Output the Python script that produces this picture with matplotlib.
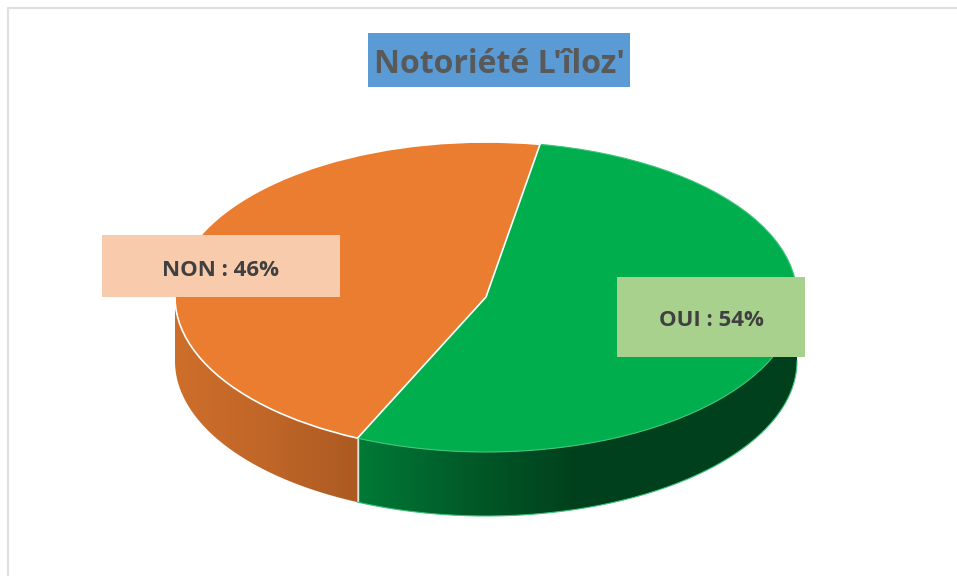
import numpy as np
import matplotlib
matplotlib.use("Agg")
import matplotlib.pyplot as plt
from matplotlib.colors import LinearSegmentedColormap
from matplotlib.patches import Rectangle, Polygon

categories = ["NON", "OUI"]
values = [46, 54]
colors = ["#EB7D30", "#00AE4E"]
title = "Notoriété L'îloz'"

W, H = 957, 576
CX, CY, RX, RY, DEPTH = 486, 297, 311, 155, 64
START = 80

plt.rcParams["font.family"] = ["Open Sans", "DejaVu Sans"]
fig = plt.figure(figsize=(W / 100, H / 100), dpi=100, facecolor="white")
ax = fig.add_axes([0, 0, 1, 1])

wall_cmaps = [
    LinearSegmentedColormap.from_list("o", ["#CE6E2B", "#C06628", "#AC5A22"]),
    LinearSegmentedColormap.from_list("g", ["#007A36", "#005A28", "#00401C", "#00401C", "#00401C"]),
]
d = DEPTH / RY
angles = START + np.cumsum([0] + values) * 3.6
for i, val in enumerate(values):
    a0, a1 = angles[i], angles[i + 1]
    lo, hi = max(a0, 180), min(a1, 360)
    th = np.radians(np.linspace(lo, hi, 300))
    xs, ys = np.cos(th), np.sin(th)
    poly = Polygon(np.r_[np.c_[xs, ys], np.c_[xs, ys - d][::-1]], closed=True, fc="none", ec="none",
                   transform=ax.transData)
    ax.add_patch(poly)
    grad = wall_cmaps[i](np.linspace(0, 1, 256))[None, :, :]
    im = ax.imshow(grad, extent=(xs.min(), xs.max(), (ys - d).min(), ys.max()),
                   aspect="auto", zorder=2, interpolation="bilinear")
    im.set_clip_path(poly)
# seam between slices
sx = np.cos(np.radians(angles[1]))
sy = np.sin(np.radians(angles[1]))
ax.plot([sx, sx], [sy - d, sy], color="#DDE8DD", lw=1, zorder=3)
th = np.radians(np.linspace(angles[1], 360, 200))
ax.plot(np.cos(th), np.sin(th) - d, color="#3CC47A", lw=0.8, zorder=3)

wedges, _ = ax.pie(values, colors=colors, startangle=START, radius=1, center=(0, 0),
                   wedgeprops=dict(edgecolor="white", linewidth=1.2, zorder=4))
wedges[1].set_edgecolor("#3FC47C")
wedges[1].set_linewidth(0.8)
wedges[0].set_zorder(5)

ax.set_aspect("auto")
ax.set_xlim(-CX / RX, (W - CX) / RX)
ax.set_ylim((CY - H) / RY, CY / RY)
ax.axis("off")


def px(x, y):
    return (x - CX) / RX, (CY - y) / RY


def box(x0, y0, x1, y1, color, label, fc, size, dy):
    xa, ya = px(x0, y1)
    xb, yb = px(x1, y0)
    ax.add_patch(Rectangle((xa, ya), xb - xa, yb - ya, fc=color, ec="none", zorder=8))
    ax.text((xa + xb) / 2, (ya + yb) / 2 - dy / RY, label, color=fc, fontsize=size, fontweight="bold",
            ha="center", va="center", zorder=9)


box(102, 235, 340, 297, "#F8CBAD", f"{categories[0]} : {values[0]}%", "#404040", 16, 5)
box(617, 277, 805, 357, "#A9D18E", f"{categories[1]} : {values[1]}%", "#404040", 16, 4)
box(368, 33, 630, 87, "#5B9BD5", title, "#595959", 23, 5)

# chart-area frame
fx0, fy0 = px(8, 8)
fx1, fy1 = px(960, 580)
ax.plot([fx0, fx0, fx1], [fy1, fy0, fy0], color="#E0E0E0", lw=1.6, zorder=1)

fig.savefig("out.png", dpi=100, facecolor="white")
